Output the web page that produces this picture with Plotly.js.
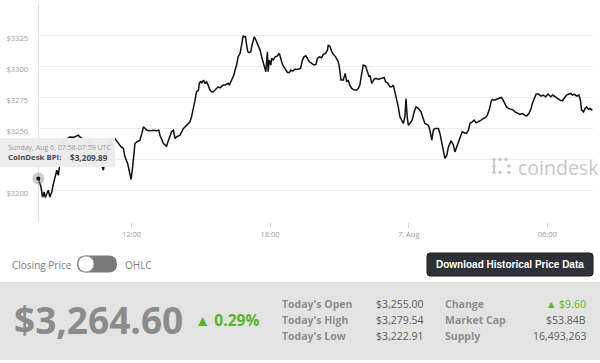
<!DOCTYPE html>
<html><head><meta charset="utf-8">
<script src="https://cdn.plot.ly/plotly-3.0.1.min.js"></script>
<style>html,body{margin:0;padding:0;background:#fff;}#chart{width:600px;height:363px;}</style>
</head><body><div id="chart"></div>
<script>
// ---- data (minutes after 2017-08-06 07:58 UTC, CoinDesk BPI in USD) ----
const startUTC = Date.UTC(2017, 7, 6, 7, 58);
const minutes = [0,7,11,15,18,22,26,30,35,39,43,48,52,56,60,64,69,77,82,93,100,104,108,121,139,155,169,176,186,199,208,215,221,225,232,238,241,245,249,251,256,264,269,273,282,290,299,307,313,316,325,333,338,342,346,351,355,359,368,377,385,394,398,403,407,411,416,418,422,424,429,433,437,441,446,450,454,459,463,467,472,476,480,485,489,493,496,500,505,508,511,515,519,524,528,531,532,535,538,541,544,547,552,554,558,561,565,571,576,580,584,589,591,595,597,600,604,606,610,615,621,626,630,634,638,643,647,652,656,661,667,673,678,681,686,690,695,700,704,710,716,721,725,730,736,740,746,751,753,758,762,766,772,778,781,784,786,792,797,801,805,809,814,821,827,831,835,840,844,850,854,859,861,866,872,877,883,892,898,902,907,913,918,922,926,931,935,939,944,948,952,955,958,961,965,971,976,981,987,994,998,1004,1013,1017,1022,1026,1030,1039,1043,1048,1052,1056,1061,1065,1072,1078,1082,1087,1091,1095,1101,1108,1112,1117,1121,1127,1132,1137,1143,1150,1156,1162,1166,1171,1176,1179,1184,1190,1196,1202,1205,1210,1216,1221,1228,1234,1238,1245,1251,1257,1264,1268,1274,1280,1283,1288,1293,1299,1306,1311,1318,1324,1331,1336,1342,1349,1355,1361,1366,1372,1378,1383,1387,1392,1398,1404,1408,1411,1416,1420,1424,1429,1433,1439];
const prices = [3209.89,3203.1,3194.9,3199.1,3194.6,3197.8,3200.5,3195.1,3199.1,3205.3,3211.2,3216.6,3212.5,3220.6,3232.6,3240.7,3240.7,3242.3,3243.3,3243.1,3243.9,3244.7,3243.3,3240.7,3236.7,3228.6,3216.6,3228.6,3239.1,3242.0,3238.0,3235.3,3234.0,3227.3,3221.9,3213.9,3209.1,3219.2,3230.0,3238.0,3239.3,3240.7,3246.1,3251.4,3248.7,3248.2,3248.7,3248.2,3248.7,3244.7,3238.0,3235.9,3240.7,3244.7,3247.4,3248.7,3242.0,3243.3,3244.7,3250.1,3252.7,3255.4,3259.4,3268.8,3272.8,3279.5,3280.9,3286.3,3288.1,3286.3,3288.9,3286.3,3287.5,3284.9,3280.9,3279.5,3279.5,3280.9,3282.2,3283.5,3282.7,3283.5,3284.9,3284.9,3285.5,3286.3,3284.9,3287.5,3290.3,3292.9,3297.0,3301.0,3307.6,3310.4,3317.1,3321.1,3324.5,3323.7,3323.7,3317.1,3311.7,3310.9,3311.7,3315.7,3319.7,3323.7,3321.1,3317.1,3313.0,3307.6,3303.6,3298.3,3295.6,3311.7,3295.6,3305.0,3301.0,3306.4,3305.0,3307.6,3308.4,3310.4,3306.4,3301.5,3299.6,3297.0,3295.1,3295.1,3297.0,3296.1,3297.8,3297.5,3297.8,3298.3,3305.0,3307.6,3308.4,3305.0,3303.6,3302.3,3301.0,3301.5,3306.4,3307.6,3306.8,3309.6,3310.4,3313.0,3317.1,3315.7,3311.7,3309.8,3307.6,3304.4,3301.0,3294.3,3288.9,3288.9,3294.3,3287.5,3288.9,3284.9,3282.2,3280.9,3280.9,3282.2,3284.9,3294.3,3301.0,3300.2,3295.6,3291.6,3292.9,3286.3,3289.5,3290.3,3289.5,3290.3,3291.1,3287.5,3286.7,3283.5,3283.5,3284.9,3279.5,3274.2,3267.4,3259.4,3256.8,3254.1,3259.4,3274.2,3259.4,3252.7,3254.1,3256.8,3263.4,3267.4,3266.2,3263.4,3259.4,3254.1,3252.7,3248.7,3240.7,3248.7,3250.1,3250.1,3246.1,3238.0,3231.3,3226.0,3228.6,3235.3,3240.1,3236.7,3231.3,3235.3,3239.3,3243.3,3247.4,3246.5,3246.1,3248.7,3254.1,3255.4,3256.8,3254.6,3255.4,3256.8,3258.1,3258.9,3260.8,3264.8,3271.5,3273.4,3272.8,3273.4,3274.2,3275.0,3274.2,3271.5,3267.4,3266.2,3265.4,3264.8,3263.4,3262.1,3261.3,3262.1,3260.8,3260.0,3262.1,3266.2,3270.2,3274.2,3277.7,3277.7,3276.1,3276.9,3275.5,3277.7,3275.5,3276.9,3275.5,3274.2,3272.8,3272.3,3274.2,3276.9,3277.7,3278.2,3276.9,3277.7,3276.1,3276.9,3272.8,3264.8,3263.4,3266.2,3267.4,3265.4,3266.2,3264.60];

const xTickVals = ['2017-08-06 12:00','2017-08-06 18:00','2017-08-07 00:00','2017-08-07 06:00'];
const xTickText = ['12:00','18:00','7. Aug','06:00'];
const yTickVals = [3175,3200,3225,3250,3275,3300,3325,3350];
// $3225 sits under the hover tooltip in the reference, so its label is left blank
const yTickText = ['','$3200','','$3250','$3275','$3300','$3325',''];

const hoverLabel = 'Sunday, Aug 6, 07:58-07:59 UTC';
const seriesName = 'CoinDesk BPI:';
const hoverValue = '$3,209.89';

const currentPrice = '$3,264.60';
const changePct = '▲ 0.29%';
const statLabelsA = ["Today's Open","Today's High","Today's Low"];
const statValuesA = ['$3,255.00','$3,279.54','$3,222.91'];
const statLabelsB = ['Change','Market Cap','Supply'];
const statValuesB = ['▲ $9.60','$53.84B','16,493,263'];

// ---- helpers ----
function fmt(ms){const d=new Date(ms);const p=n=>String(n).padStart(2,'0');
  return d.getUTCFullYear()+'-'+p(d.getUTCMonth()+1)+'-'+p(d.getUTCDate())+' '+p(d.getUTCHours())+':'+p(d.getUTCMinutes())+':'+p(d.getUTCSeconds());}
const times = minutes.map(m => fmt(startUTC + m*60000));

const L=38, R=593, T=4, B=222;
const px = x => (x-L)/(R-L);
const py = y => (B-y)/(B-T);
function rrect(x0,y0,x1,y1,r){
  return `M ${px(x0+r)},${py(y0)} L ${px(x1-r)},${py(y0)} Q ${px(x1)},${py(y0)} ${px(x1)},${py(y0+r)} L ${px(x1)},${py(y1-r)} Q ${px(x1)},${py(y1)} ${px(x1-r)},${py(y1)} L ${px(x0+r)},${py(y1)} Q ${px(x0)},${py(y1)} ${px(x0)},${py(y1-r)} L ${px(x0)},${py(y0+r)} Q ${px(x0)},${py(y0)} ${px(x0+r)},${py(y0)} Z`;
}
function circ(cx,cy,r,fill,line){
  return {type:'circle',xref:'paper',yref:'paper',x0:px(cx-r),x1:px(cx+r),y0:py(cy+r),y1:py(cy-r),fillcolor:fill,line:{color:line||fill,width:line?1:0},layer:'above'};
}
function txt(x,y,text,size,color,anchor,opts){
  return Object.assign({xref:'paper',yref:'paper',x:px(x),y:py(y),text:text,showarrow:false,
    xanchor:anchor||'left',yanchor:'middle',font:{family:'Open Sans',size:size,color:color}},opts||{});
}

const FONT='Open Sans';
const traces = [
  {x:times,y:prices,type:'scatter',mode:'lines',line:{color:'#111',width:1.5},hoverinfo:'skip'},
  {x:[times[0]],y:[prices[0]],type:'scatter',mode:'markers',marker:{size:12,color:'rgba(140,140,140,0.45)'},cliponaxis:false,hoverinfo:'skip'},
  {x:[times[0]],y:[prices[0]],type:'scatter',mode:'markers',marker:{size:4,color:'#111'},cliponaxis:false,hoverinfo:'skip'}
];

const shapes = [
  {type:'line',xref:'x',yref:'paper',x0:times[0],x1:times[0],y0:0,y1:1,line:{color:'#d8d8d8',width:1},layer:'below'},
  // tooltip box
  {type:'rect',xref:'paper',yref:'paper',x0:px(0),x1:px(115),y0:py(167),y1:py(138),fillcolor:'rgba(236,236,236,0.97)',line:{width:0},layer:'above'},
  // toggle
  {type:'path',xref:'paper',yref:'paper',path:rrect(77,255.5,117,272.5,8.5),fillcolor:'#7a7a7a',line:{width:0},layer:'above'},
  circ(86,264,8,'#ffffff','#9a9a9a'),
  // button
  {type:'path',xref:'paper',yref:'paper',path:rrect(427,253,593,276,3),fillcolor:'#2e3135',line:{color:'#1c1e21',width:1},layer:'above'},
  // gray band
  {type:'rect',xref:'paper',yref:'paper',x0:px(0),x1:px(600),y0:py(360),y1:py(282),fillcolor:'#e4e4e4',line:{width:0},layer:'above'},
  // coindesk icon
  circ(494,159.5,1.8,'#c9c9c9'),circ(500,159.5,1.8,'#c9c9c9'),circ(506,159.5,1.8,'#c9c9c9'),
  circ(494,166,1.8,'#c9c9c9'),circ(494,172.5,1.8,'#c9c9c9'),circ(500,172.5,1.8,'#c9c9c9'),
  circ(509,166,1.8,'#c9c9c9'),circ(509,172.5,1.8,'#c9c9c9'),
  {type:'line',xref:'paper',yref:'paper',x0:px(494),x1:px(494),y0:py(159.5),y1:py(172.5),line:{color:'#c9c9c9',width:2},layer:'above'}
];

const annotations = [
  txt(6,147,hoverLabel,7,'#9a9a9a'),
  txt(6,157,'<b>'+seriesName+'</b>',7.8,'#4a4a4a'),
  txt(110,157,'<b>'+hoverValue+'</b>',8.2,'#4a4a4a','right'),
  txt(516,167,'coindesk',19.5,'#c6c6c6'),
  txt(10,265,'Closing Price',10,'#7d7d7d'),
  txt(123,265,'OHLC',10,'#7d7d7d'),
  {xref:'paper',yref:'paper',x:px(510),y:py(264.5),text:'<b>Download Historical Price Data</b>',showarrow:false,xanchor:'center',yanchor:'middle',font:{family:'Liberation Sans',size:10,color:'#ffffff'}},
  txt(12,319,'<b>'+currentPrice+'</b>',37,'#8c8c8c'),
  txt(193,320,'<b>'+changePct+'</b>',15.5,'#56b52c')
];
const rowsY=[304.3,320,336];
statLabelsA.forEach((s,i)=>annotations.push(txt(280,rowsY[i],'<b>'+s+'</b>',10.5,'#8d8d8d')));
statValuesA.forEach((s,i)=>annotations.push(txt(426,rowsY[i],s,10.5,'#5c5c5c','right')));
statLabelsB.forEach((s,i)=>annotations.push(txt(443,rowsY[i],'<b>'+s+'</b>',10.5,'#8d8d8d')));
statValuesB.forEach((s,i)=>annotations.push(txt(588,rowsY[i],s,10.5,i===0?'#56b52c':'#5c5c5c','right')));

const layout = {
  width:600,height:363,margin:{l:L,r:600-R,t:T,b:363-B,pad:0},
  paper_bgcolor:'#ffffff',plot_bgcolor:'#ffffff',showlegend:false,
  font:{family:FONT},
  xaxis:{type:'date',range:['2017-08-06 07:57:13','2017-08-07 07:58:36'],tickvals:xTickVals,ticktext:xTickText,
    showgrid:false,zeroline:false,showline:false,ticks:'outside',ticklen:5,tickcolor:'#ccd6eb',tickwidth:1,
    tickfont:{family:FONT,size:7.5,color:'#9a9a9a'},fixedrange:true},
  yaxis:{range:[3175,3350],tickvals:yTickVals,ticktext:yTickText,showgrid:true,gridcolor:'#ececec',gridwidth:1,
    zeroline:false,showline:false,ticks:'',ticklabelstandoff:9,ticklabelshift:3,
    tickfont:{family:FONT,size:7.5,color:'#9a9a9a'},fixedrange:true},
  shapes:shapes,annotations:annotations
};
Plotly.newPlot('chart',traces,layout,{displayModeBar:false,staticPlot:true});
</script></body></html>
